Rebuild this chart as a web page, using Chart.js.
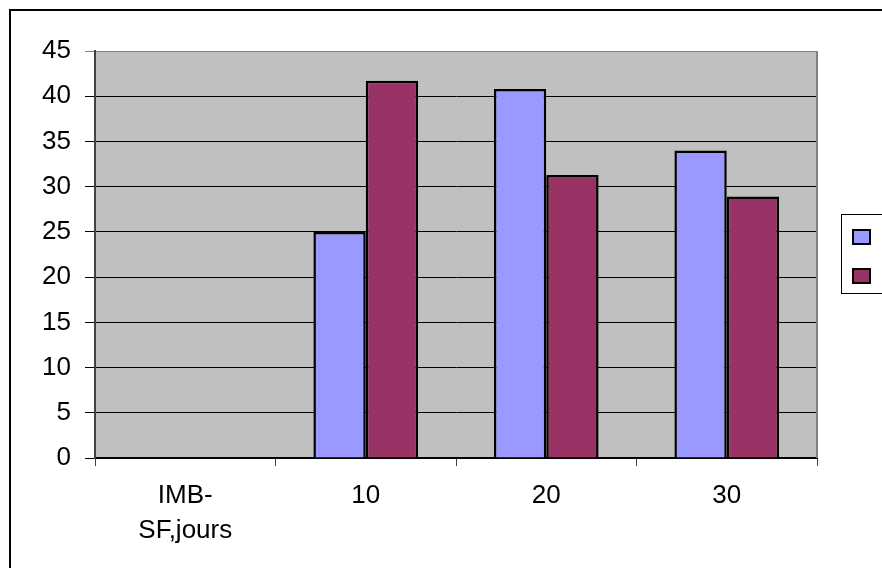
<!DOCTYPE html>
<html>
<head>
<meta charset="utf-8">
<script src="https://cdn.jsdelivr.net/npm/chart.js@4"></script>
<style>
  html, body { margin: 0; padding: 0; background: #fff; }
  #wrap { width: 882px; height: 568px; }
</style>
</head>
<body>
<div id="wrap"><canvas id="chart" width="882" height="568"></canvas></div>
<script>
// values
var categories = [['IMB-', 'SF,jours'], '10', '20', '30'];
var serieA = [null, 25, 40.8, 34];
var serieB = [null, 41.7, 31.3, 28.9];
var yTicks = [0, 5, 10, 15, 20, 25, 30, 35, 40, 45];

var FONT = { family: 'Liberation Sans', size: 26, lineHeight: 1.35 };

// white page, gray plot area, outer frame
var backdrop = {
    id: 'backdrop',
    beforeDraw: function(chart) {
        var ctx = chart.ctx, a = chart.chartArea;
        ctx.save();
        ctx.fillStyle = '#fff';
        ctx.fillRect(0, 0, chart.width, chart.height);
        ctx.fillStyle = '#C0C0C0';
        ctx.fillRect(a.left, a.top, a.right - a.left, a.bottom - a.top);
        ctx.strokeStyle = '#000';
        ctx.lineWidth = 2;
        ctx.strokeRect(10, 10, chart.width + 20, chart.height + 20);
        ctx.restore();
    },
    afterDraw: function(chart) {
        var ctx = chart.ctx, a = chart.chartArea;
        ctx.save();
        // right edge of the plot area
        ctx.strokeStyle = '#808080';
        ctx.lineWidth = 2;
        ctx.beginPath();
        ctx.moveTo(a.right, a.top);
        ctx.lineTo(a.right, a.bottom);
        ctx.stroke();
        // legend box with empty labels
        ctx.strokeStyle = '#000';
        ctx.lineWidth = 1;
        ctx.strokeRect(841.5, 214.5, 80, 79);
        chart.data.datasets.forEach(function(ds, i) {
            var y = 230 + i * 39;
            ctx.fillStyle = ds.backgroundColor;
            ctx.fillRect(853, y, 17, 14);
            ctx.lineWidth = 2;
            ctx.strokeRect(853, y, 17, 14);
        });
        ctx.restore();
    }
};

new Chart(document.getElementById('chart'), {
    type: 'bar',
    data: {
        labels: categories,
        datasets: [
            {
                label: '',
                data: serieA,
                backgroundColor: '#9999FF',
                borderColor: '#000',
                borderWidth: 2.5
            },
            {
                label: '',
                data: serieB,
                backgroundColor: '#993366',
                borderColor: '#000',
                borderWidth: 2.5
            }
        ]
    },
    options: {
        animation: false,
        responsive: false,
        datasets: {
            bar: { categoryPercentage: 0.58, barPercentage: 1 }
        },
        layout: { padding: { top: 51, right: 65, left: 0, bottom: 0 } },
        plugins: {
            legend: { display: false },
            tooltip: { enabled: false }
        },
        scales: {
            x: {
                grid: {
                    offset: true,
                    drawOnChartArea: false,
                    drawTicks: true,
                    tickLength: 8,
                    color: '#404040'
                },
                border: { color: '#000', width: 2 },
                ticks: {
                    color: '#000',
                    font: FONT,
                    padding: 12,
                    maxRotation: 0,
                    autoSkip: false
                },
                afterFit: function(scale) { scale.height = 110; }
            },
            y: {
                min: 0,
                max: 45,
                afterBuildTicks: function(scale) {
                    scale.ticks = yTicks.map(function(v) { return { value: v }; });
                },
                grid: {
                    color: function(c) { return c.tick && c.tick.value === 45 ? '#808080' : '#000'; },
                    lineWidth: 1,
                    tickLength: 10
                },
                border: { color: '#404040', width: 2 },
                ticks: {
                    color: '#000',
                    font: FONT,
                    padding: 14
                },
                afterFit: function(scale) { scale.width = 95; }
            }
        }
    },
    plugins: [backdrop]
});
</script>
</body>
</html>
